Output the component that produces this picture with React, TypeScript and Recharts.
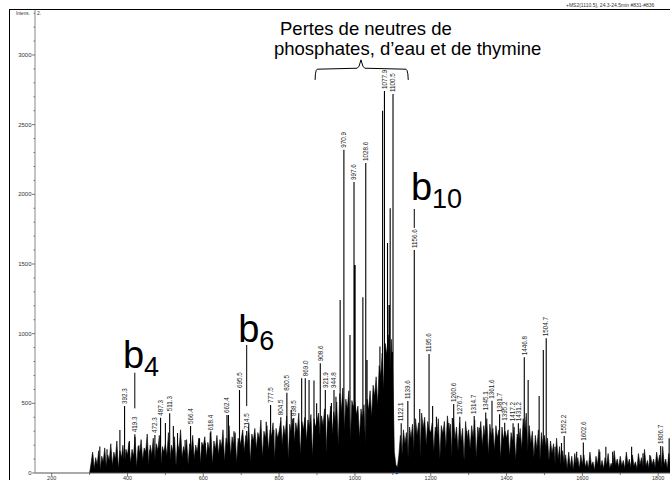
import React from "react";
import {
  ComposedChart,
  Area,
  Line,
  Scatter,
  XAxis,
  YAxis,
  ReferenceLine,
  ReferenceDot,
} from "recharts";

const FONT = "'Liberation Sans', Arial, Helvetica, sans-serif";

// labelled peaks (m/z, intensity)
const peakMz = [
  392.3, 419.3, 472.3, 487.3, 511.3, 566.4, 618.4, 662.4, 695.5, 714.5, 777.5, 804.5, 820.5,
  838.5, 869.0, 908.6, 921.9, 944.8, 970.9, 997.6, 1028.6, 1077.9, 1100.5, 1122.1, 1139.6,
  1156.6, 1195.6, 1260.6, 1276.7, 1314.7, 1345.1, 1361.6, 1381.7, 1395.2, 1417.2, 1431.2,
  1446.8, 1504.7, 1552.2, 1602.6, 1806.7,
];
const peakInt = [
  481, 278, 273, 397, 428, 337, 290, 416, 596, 301, 488, 400, 576,
  395, 680, 788, 596, 596, 2319, 2089, 2225, 2742, 2720, 357, 517,
  1600, 854, 495, 404, 409, 435, 519, 421, 361, 357, 357,
  831, 967, 266, 218, 194,
];

// unlabelled spikes
const spikeMz = [
  308, 327, 346, 380, 405, 430, 459, 500, 521, 532, 552, 590, 605, 650, 666.4, 681, 728, 737,
  766, 786, 832, 859.5, 879, 892, 899, 938, 950, 961, 987, 1000.5, 1021, 1032, 1066, 1073,
  1086, 1090, 1093, 1098, 1171, 1205, 1215, 1248, 1257, 1295, 1328, 1375, 1457, 1486, 1497,
  1528, 1545, 1585, 1646, 1662, 1680, 1730, 1760, 1778, 1829,
];
const spikeInt = [
  129, 190, 170, 309, 230, 200, 165, 359, 337, 287, 237, 250, 215, 215, 416, 300, 237, 215,
  368, 309, 452, 680, 668, 663, 500, 502, 548, 1242, 990, 1493, 1261, 811, 907, 2600,
  1650, 1206, 1900, 869, 459, 481, 404, 359, 395, 301, 325, 268, 668, 553, 883,
  189, 215, 153, 153, 189, 153, 189, 141, 130, 249,
];

// noise profile, one value every 4 m/z from each segment start
const noiseStart = [300, 400, 500, 600, 700, 800, 900, 1000, 1100, 1200, 1300, 1400, 1500, 1600, 1700, 1800];
const noise300 = [0, 70, 150, 30, 110, 60, 160, 20, 120, 80, 180, 40, 130, 90, 210, 50, 150, 100, 230, 30, 160, 110, 200, 60, 170];
const noise400 = [130, 220, 70, 170, 120, 260, 40, 190, 140, 240, 90, 180, 150, 280, 60, 200, 130, 250, 80, 210, 160, 270, 50, 190, 150];
const noise500 = [210, 120, 290, 90, 200, 150, 260, 50, 220, 160, 310, 110, 190, 140, 240, 60, 210, 160, 270, 100, 200, 150, 250, 70, 220];
const noise600 = [190, 260, 110, 220, 160, 300, 60, 230, 170, 270, 130, 240, 180, 310, 80, 250, 190, 340, 120, 260, 200, 290, 70, 250, 190];
const noise700 = [240, 310, 150, 270, 210, 350, 80, 280, 230, 320, 170, 290, 240, 380, 110, 300, 250, 340, 160, 310, 260, 360, 90, 320, 250];
const noise800 = [300, 370, 200, 340, 270, 410, 100, 350, 290, 390, 220, 360, 300, 430, 130, 370, 310, 400, 230, 380, 320, 420, 120, 390, 330];
const noise900 = [370, 430, 260, 410, 340, 460, 150, 420, 360, 480, 280, 440, 370, 510, 200, 570, 440, 610, 300, 530, 460, 590, 220, 520, 470];
const noise1000 = [510, 420, 480, 250, 460, 390, 490, 180, 530, 450, 590, 400, 630, 550, 690, 480, 770, 690, 860, 600, 930, 850, 990, 700, 960];
const noise1100 = [710, 150, 60, 40, 130, 270, 120, 310, 210, 290, 100, 330, 250, 350, 150, 390, 270, 360, 120, 430, 320, 400, 200, 370, 310];
const noise1200 = [290, 360, 150, 330, 260, 390, 100, 340, 280, 370, 180, 410, 290, 350, 120, 390, 240, 330, 160, 360, 230, 320, 90, 370, 240];
const noise1300 = [310, 170, 340, 250, 380, 110, 330, 240, 370, 190, 340, 250, 390, 130, 350, 260, 320, 160, 340, 250, 310, 100, 330, 240, 300];
const noise1400 = [250, 310, 120, 290, 220, 330, 90, 280, 230, 320, 170, 390, 290, 430, 150, 340, 210, 300, 110, 270, 170, 310, 80, 290, 190];
const noise1500 = [270, 180, 250, 90, 230, 140, 210, 60, 250, 100, 190, 50, 160, 60, 130, 30, 150, 40, 120, 20, 140, 50, 110, 30, 130];
const noise1600 = [60, 130, 40, 90, 30, 150, 50, 80, 20, 120, 60, 170, 40, 90, 30, 110, 50, 140, 30, 70, 40, 160, 60, 100, 40];
const noise1700 = [120, 50, 90, 30, 150, 60, 100, 40, 130, 50, 80, 30, 140, 60, 110, 40, 170, 50, 90, 30, 120, 60, 100, 40, 150];
const noise1800 = [70, 130, 40, 190, 60, 100, 30, 140, 50, 120, 40, 160, 60, 110, 30, 130, 50, 90, 40, 150, 60, 100];

const xTicks = [200, 300, 400, 500, 600, 700, 800, 900, 1000, 1100, 1200, 1300, 1400, 1500, 1600, 1700, 1800];
const yTicks = [
  0, 100, 200, 300, 400, 500, 600, 700, 800, 900, 1000, 1100, 1200, 1300, 1400, 1500, 1600,
  1700, 1800, 1900, 2000, 2100, 2200, 2300, 2400, 2500, 2600, 2700, 2800, 2900, 3000, 3100,
  3200, 3300,
];

// brace over the neutral-loss cluster (m/z, intensity)
const braceMz = [894.9, 895.8, 898, 900.6, 1006, 1011, 1016, 1021, 1026, 1134.6, 1137.2, 1139.6, 1140.7];
const braceInt = [2821, 2865, 2890, 2898, 2905, 2920, 2965, 2920, 2905, 2898, 2890, 2865, 2821];

// ion annotations
const ions = [
  { name: "b", sub: "4", mz: 388, y: 754, lineMz: 419.3, from: 464, to: 720 },
  { name: "b", sub: "6", mz: 692, y: 943, lineMz: 714.5, from: 481, to: 919 },
  { name: "b", sub: "10", mz: 1147.7, y: 1960, lineMz: 1156.6, from: 1759, to: 1895 },
];

const noiseData = [
  noise300, noise400, noise500, noise600, noise700, noise800, noise900, noise1000,
  noise1100, noise1200, noise1300, noise1400, noise1500, noise1600, noise1700, noise1800,
].flatMap((seg, s) => seg.map((v, i) => ({ mz: noiseStart[s] + i * 4, v })));

const peaks = peakMz.map((mz, i) => ({ mz, v: peakInt[i], label: mz.toFixed(1) }));

const stickData = [
  ...peakMz.map((mz, i) => ({ mz, v: peakInt[i] })),
  ...spikeMz.map((mz, i) => ({ mz, v: spikeInt[i] })),
]
  .sort((a, b) => a.mz - b.mz)
  .flatMap((p) => [
    { mz: p.mz, v: 0 },
    { mz: p.mz, v: p.v },
    { mz: p.mz, v: 0 },
  ]);

const braceData = braceMz.map((mz, i) => ({ mz, v: braceInt[i] }));

function XTick(props: any) {
  const { x, y, payload } = props;
  const major = payload.value % 200 === 0;
  return (
    <g>
      <line x1={x} x2={x} y1={y} y2={y + (major ? 3 : 2)} stroke="#555" strokeWidth={0.8} />
      {major && (
        <text x={x} y={y + 6.5} textAnchor="middle" fontSize={5.5} fill="#333" fontFamily={FONT}>
          {payload.value}
        </text>
      )}
    </g>
  );
}

function YTick(props: any) {
  const { x, y, payload } = props;
  const major = payload.value % 500 === 0;
  return (
    <g>
      <line x1={x - (major ? 3 : 1.5)} x2={x} y1={y} y2={y} stroke="#555" strokeWidth={0.8} />
      {major && (
        <text x={x - 3.5} y={y + 2} textAnchor="end" fontSize={6} fill="#333" fontFamily={FONT}>
          {payload.value}
        </text>
      )}
    </g>
  );
}

function PeakLabel(props: any) {
  const { cx, cy, payload } = props;
  const fs = 6.3;
  const px = cx + fs * 0.36;
  const py = cy - 2;
  return (
    <text
      x={px}
      y={py}
      transform={`rotate(-90 ${px} ${py})`}
      fontSize={fs}
      fill="#222"
      fontFamily={FONT}
    >
      {payload.label}
    </text>
  );
}

export default function App() {
  return (
    <div
      style={{
        position: "fixed",
        left: 0,
        top: 0,
        width: 670,
        height: 480,
        overflow: "hidden",
        background: "#fff",
      }}
    >
      <ComposedChart
        width={700}
        height={500}
        margin={{ top: 9, right: 10, bottom: 7, left: 0 }}
        style={{ position: "absolute", left: 0, top: 0 }}
      >
        <XAxis
          type="number"
          dataKey="mz"
          domain={[156, 1884]}
          allowDataOverflow
          ticks={xTicks}
          interval={0}
          tick={<XTick />}
          tickLine={false}
          tickSize={0}
          tickMargin={0}
          height={20}
          axisLine={{ stroke: "#555", strokeWidth: 1 }}
        />
        <YAxis
          type="number"
          domain={[0, 3330]}
          allowDataOverflow
          ticks={yTicks}
          interval={0}
          tick={<YTick />}
          tickLine={false}
          tickSize={0}
          tickMargin={0}
          width={35}
          axisLine={{ stroke: "#888", strokeWidth: 1 }}
        />

        {/* noise body */}
        <Area
          data={noiseData}
          dataKey="v"
          type="linear"
          fill="#000"
          fillOpacity={1}
          stroke="#000"
          strokeWidth={0.6}
          isAnimationActive={false}
        />

        {/* peak sticks */}
        <Line
          data={stickData}
          dataKey="v"
          type="linear"
          stroke="#000"
          strokeWidth={1.1}
          dot={false}
          isAnimationActive={false}
        />

        {/* peak labels */}
        <Scatter data={peaks} dataKey="v" shape={PeakLabel} isAnimationActive={false} />

        {/* brace */}
        <Line
          data={braceData}
          dataKey="v"
          type="linear"
          stroke="#000"
          strokeWidth={1}
          dot={false}
          isAnimationActive={false}
        />

        {ions.map((ion) => (
          <ReferenceLine
            key={"l" + ion.sub}
            segment={[
              { x: ion.lineMz, y: ion.from },
              { x: ion.lineMz, y: ion.to },
            ]}
            stroke="#000"
            strokeWidth={1}
          />
        ))}
        {ions.map((ion) => (
          <ReferenceDot
            key={"t" + ion.sub}
            x={ion.mz}
            y={ion.y}
            r={0}
            shape={(p: any) => (
              <text x={p.cx} y={p.cy} fontFamily={FONT} fill="#000">
                <tspan fontSize={38}>{ion.name}</tspan>
                <tspan fontSize={27} dy={8}>
                  {ion.sub}
                </tspan>
              </text>
            )}
          />
        ))}

        {/* precursor marker */}
        <ReferenceDot x={1110.5} y={0} r={1.3} fill="#1a3aa0" stroke="none" />
      </ComposedChart>

      <svg
        width={670}
        height={480}
        style={{ position: "absolute", left: 0, top: 0, pointerEvents: "none" }}
      >
        <line x1={9} x2={670} y1={9.5} y2={9.5} stroke="#000" strokeWidth={1} />
        <line x1={9.5} x2={9.5} y1={9} y2={480} stroke="#000" strokeWidth={1} />
        <text x={16} y={15} fontSize={4.6} fill="#333" fontFamily={FONT}>
          Intens.
        </text>
        <text x={37} y={15} fontSize={5} fill="#333" fontFamily={FONT}>
          2.
        </text>
        <text x={566} y={7} fontSize={5} fill="#333" fontFamily={FONT}>
          +MS2(1110.5), 24.3-24.5min #831-#836
        </text>
        <text x={280} y={35} fontSize={18.5} fill="#000" fontFamily={FONT}>
          Pertes de neutres de
        </text>
        <text x={274} y={55} fontSize={18.5} fill="#000" fontFamily={FONT}>
          phosphates, d’eau et de thymine
        </text>
      </svg>
    </div>
  );
}
